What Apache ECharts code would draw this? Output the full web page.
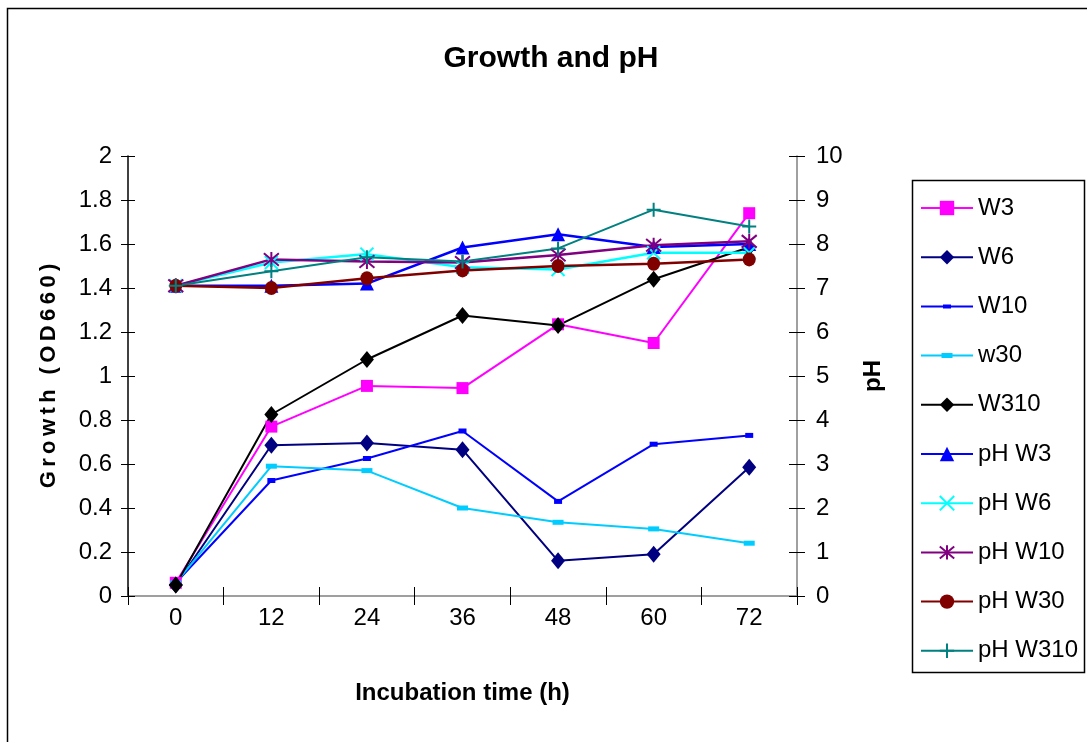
<!DOCTYPE html>
<html>
<head>
<meta charset="utf-8">
<script src="https://cdn.jsdelivr.net/npm/echarts@6/dist/echarts.min.js"></script>
<style>
  html, body { margin: 0; padding: 0; background: #fff; }
  #chart { width: 1087px; height: 742px; }
</style>
</head>
<body>
<div id="chart"></div>
<script>
// Incubation time points (h)
const categories = ['0', '12', '24', '36', '48', '60', '72'];

// Growth, OD660 (left axis)
const w3   = [0.06, 0.77, 0.955, 0.945, 1.235, 1.15, 1.74];
const w6   = [0.05, 0.685, 0.695, 0.665, 0.16, 0.19, 0.585];
const w10  = [0.06, 0.525, 0.625, 0.75, 0.43, 0.69, 0.73];
const w30  = [0.06, 0.59, 0.57, 0.40, 0.335, 0.305, 0.24];
const w310 = [0.05, 0.825, 1.075, 1.275, 1.23, 1.44, 1.585];

// pH (right axis)
const phW3   = [7.05, 7.05, 7.1, 7.92, 8.22, 7.93, 8.0];
const phW6   = [7.05, 7.58, 7.77, 7.47, 7.42, 7.8, 7.8];
const phW10  = [7.05, 7.65, 7.6, 7.58, 7.75, 7.97, 8.06];
const phW30  = [7.05, 7.0, 7.22, 7.4, 7.5, 7.55, 7.65];
const phW310 = [7.05, 7.38, 7.7, 7.6, 7.9, 8.78, 8.4];

const FONT = "'Liberation Sans', Arial, sans-serif";
const SYM_X = 'path://M0,0L10,10M10,0L0,10';
const SYM_STAR = 'path://M0,1L10,11M10,1L0,11M5,0L5,12';
const SYM_PLUS = 'path://M5,0L5,10M0,5L10,5';

// legend icons for the dash-marker series: a line with a small bar on it
const ICON_W10 = 'path://M0,1L52,1L52,3L0,3Z M22,0L30,0L30,4L22,4Z';
const ICON_W30 = 'path://M0,1.5L52,1.5L52,3.5L0,3.5Z M20.5,0L31.5,0L31.5,5L20.5,5Z';

function lineSeries(name, data, color, symbol, size, yAxisIndex, opts) {
  opts = opts || {};
  return {
    name: name,
    type: 'line',
    data: data,
    yAxisIndex: yAxisIndex,
    symbol: symbol,
    symbolSize: size,
    showAllSymbol: true,
    lineStyle: { color: color, width: opts.width || 2 },
    itemStyle: opts.stroke
      ? { color: color, borderColor: color, borderWidth: 2 }
      : { color: color, borderWidth: 0 },
    emphasis: { disabled: true }
  };
}

const chart = echarts.init(document.getElementById('chart'), null, { renderer: 'canvas' });

const axisLabelStyle = { color: '#000', fontFamily: FONT, fontSize: 24 };

chart.setOption({
  animation: false,
  backgroundColor: '#fff',
  textStyle: { fontFamily: FONT },
  title: {
    text: 'Growth and pH',
    left: 551,
    top: 44,
    padding: 0,
    textAlign: 'center',
    textStyle: { fontFamily: FONT, fontSize: 30, fontWeight: 'bold', color: '#000' }
  },
  graphic: [
    {
      type: 'rect',
      silent: true,
      shape: { x: 7.5, y: 8.5, width: 1200, height: 900 },
      style: { fill: null, stroke: '#000', lineWidth: 1.5 }
    },
    {
      type: 'rect',
      silent: true,
      z: 0,
      shape: { x: 912.5, y: 180.5, width: 172, height: 492 },
      style: { fill: '#fff', stroke: '#000', lineWidth: 1.5 }
    }
  ],
  legend: {
    orient: 'vertical',
    left: 920,
    top: 196,
    padding: 0,
    itemWidth: 52,
    itemHeight: 18,
    itemGap: 25.2,
    textStyle: { fontFamily: FONT, fontSize: 24, color: '#000', lineHeight: 24 },
    data: [
      'W3', 'W6',
      { name: 'W10', icon: ICON_W10 },
      { name: 'w30', icon: ICON_W30 },
      'W310', 'pH W3', 'pH W6', 'pH W10', 'pH W30', 'pH W310'
    ]
  },
  grid: { left: 128, right: 290, top: 156, bottom: 146, containLabel: false },
  xAxis: [
    {
      type: 'category',
      data: categories,
      boundaryGap: true,
      name: 'Incubation time (h)',
      nameLocation: 'middle',
      nameGap: 85,
      nameTextStyle: { fontFamily: FONT, fontSize: 24, fontWeight: 'bold', color: '#000' },
      axisLine: { show: true, lineStyle: { color: '#808080', width: 1.5 } },
      axisTick: { show: true, inside: false, length: 9, lineStyle: { color: '#000', width: 1 } },
      axisLabel: Object.assign({ margin: 10, interval: 0 }, axisLabelStyle),
      splitLine: { show: false }
    },
    {
      // inner half of the tick marks on the category axis
      type: 'category',
      data: categories,
      position: 'bottom',
      boundaryGap: true,
      axisLine: { show: false },
      axisTick: { show: true, inside: true, length: 9, lineStyle: { color: '#000', width: 1 } },
      axisLabel: { show: false },
      splitLine: { show: false }
    }
  ],
  yAxis: [
    {
      type: 'value',
      position: 'left',
      min: 0, max: 2, interval: 0.2,
      name: 'G\u2009r\u2009o\u2009w\u2009t\u2009h\u2009 \u2009(\u2009O\u2009D\u20096\u20096\u20090\u2009)',
      nameLocation: 'middle',
      nameRotate: 90,
      nameGap: 68,
      nameTextStyle: { fontFamily: FONT, fontSize: 22, fontWeight: 'bold', color: '#000' },
      axisLine: { show: true, lineStyle: { color: '#000', width: 1.5 } },
      axisTick: { show: true, inside: false, length: 7, lineStyle: { color: '#000', width: 1 } },
      axisLabel: Object.assign({ margin: 16, formatter: v => String(Math.round(v * 10) / 10) }, axisLabelStyle),
      splitLine: { show: false }
    },
    {
      type: 'value',
      position: 'right',
      min: 0, max: 10, interval: 1,
      name: 'pH',
      nameLocation: 'middle',
      nameRotate: 90,
      nameGap: 64,
      nameTextStyle: { fontFamily: FONT, fontSize: 24, fontWeight: 'bold', color: '#000' },
      axisLine: { show: true, lineStyle: { color: '#808080', width: 1.5 } },
      axisTick: { show: true, inside: false, length: 8, lineStyle: { color: '#000', width: 1 } },
      axisLabel: Object.assign({ margin: 19 }, axisLabelStyle),
      splitLine: { show: false }
    },
    {
      // inner half of the left tick marks
      type: 'value',
      position: 'left',
      min: 0, max: 2, interval: 0.2,
      axisLine: { show: false },
      axisTick: { show: true, inside: true, length: 7, lineStyle: { color: '#000', width: 1 } },
      axisLabel: { show: false },
      splitLine: { show: false }
    },
    {
      // inner half of the right tick marks
      type: 'value',
      position: 'right',
      min: 0, max: 10, interval: 1,
      axisLine: { show: false },
      axisTick: { show: true, inside: true, length: 8, lineStyle: { color: '#000', width: 1 } },
      axisLabel: { show: false },
      splitLine: { show: false }
    }
  ],
  series: [
    lineSeries('W3', w3, '#FF00FF', 'rect', 12, 0),
    lineSeries('W6', w6, '#000080', 'diamond', [14, 17], 0),
    lineSeries('W10', w10, '#0000FF', 'rect', [8, 5], 0),
    lineSeries('w30', w30, '#00CCFF', 'rect', [11, 5], 0),
    lineSeries('W310', w310, '#000000', 'diamond', [14, 17], 0),
    lineSeries('pH W3', phW3, '#0000FF', 'triangle', 14, 1, { width: 2.5 }),
    lineSeries('pH W6', phW6, '#00FFFF', SYM_X, 13, 1, { width: 2.5, stroke: true }),
    lineSeries('pH W10', phW10, '#800080', SYM_STAR, 15, 1, { width: 2.5, stroke: true }),
    lineSeries('pH W30', phW30, '#800000', 'circle', [13, 14], 1, { width: 2.5 }),
    lineSeries('pH W310', phW310, '#008080', SYM_PLUS, 14, 1, { width: 2, stroke: true })
  ]
});
</script>
</body>
</html>
